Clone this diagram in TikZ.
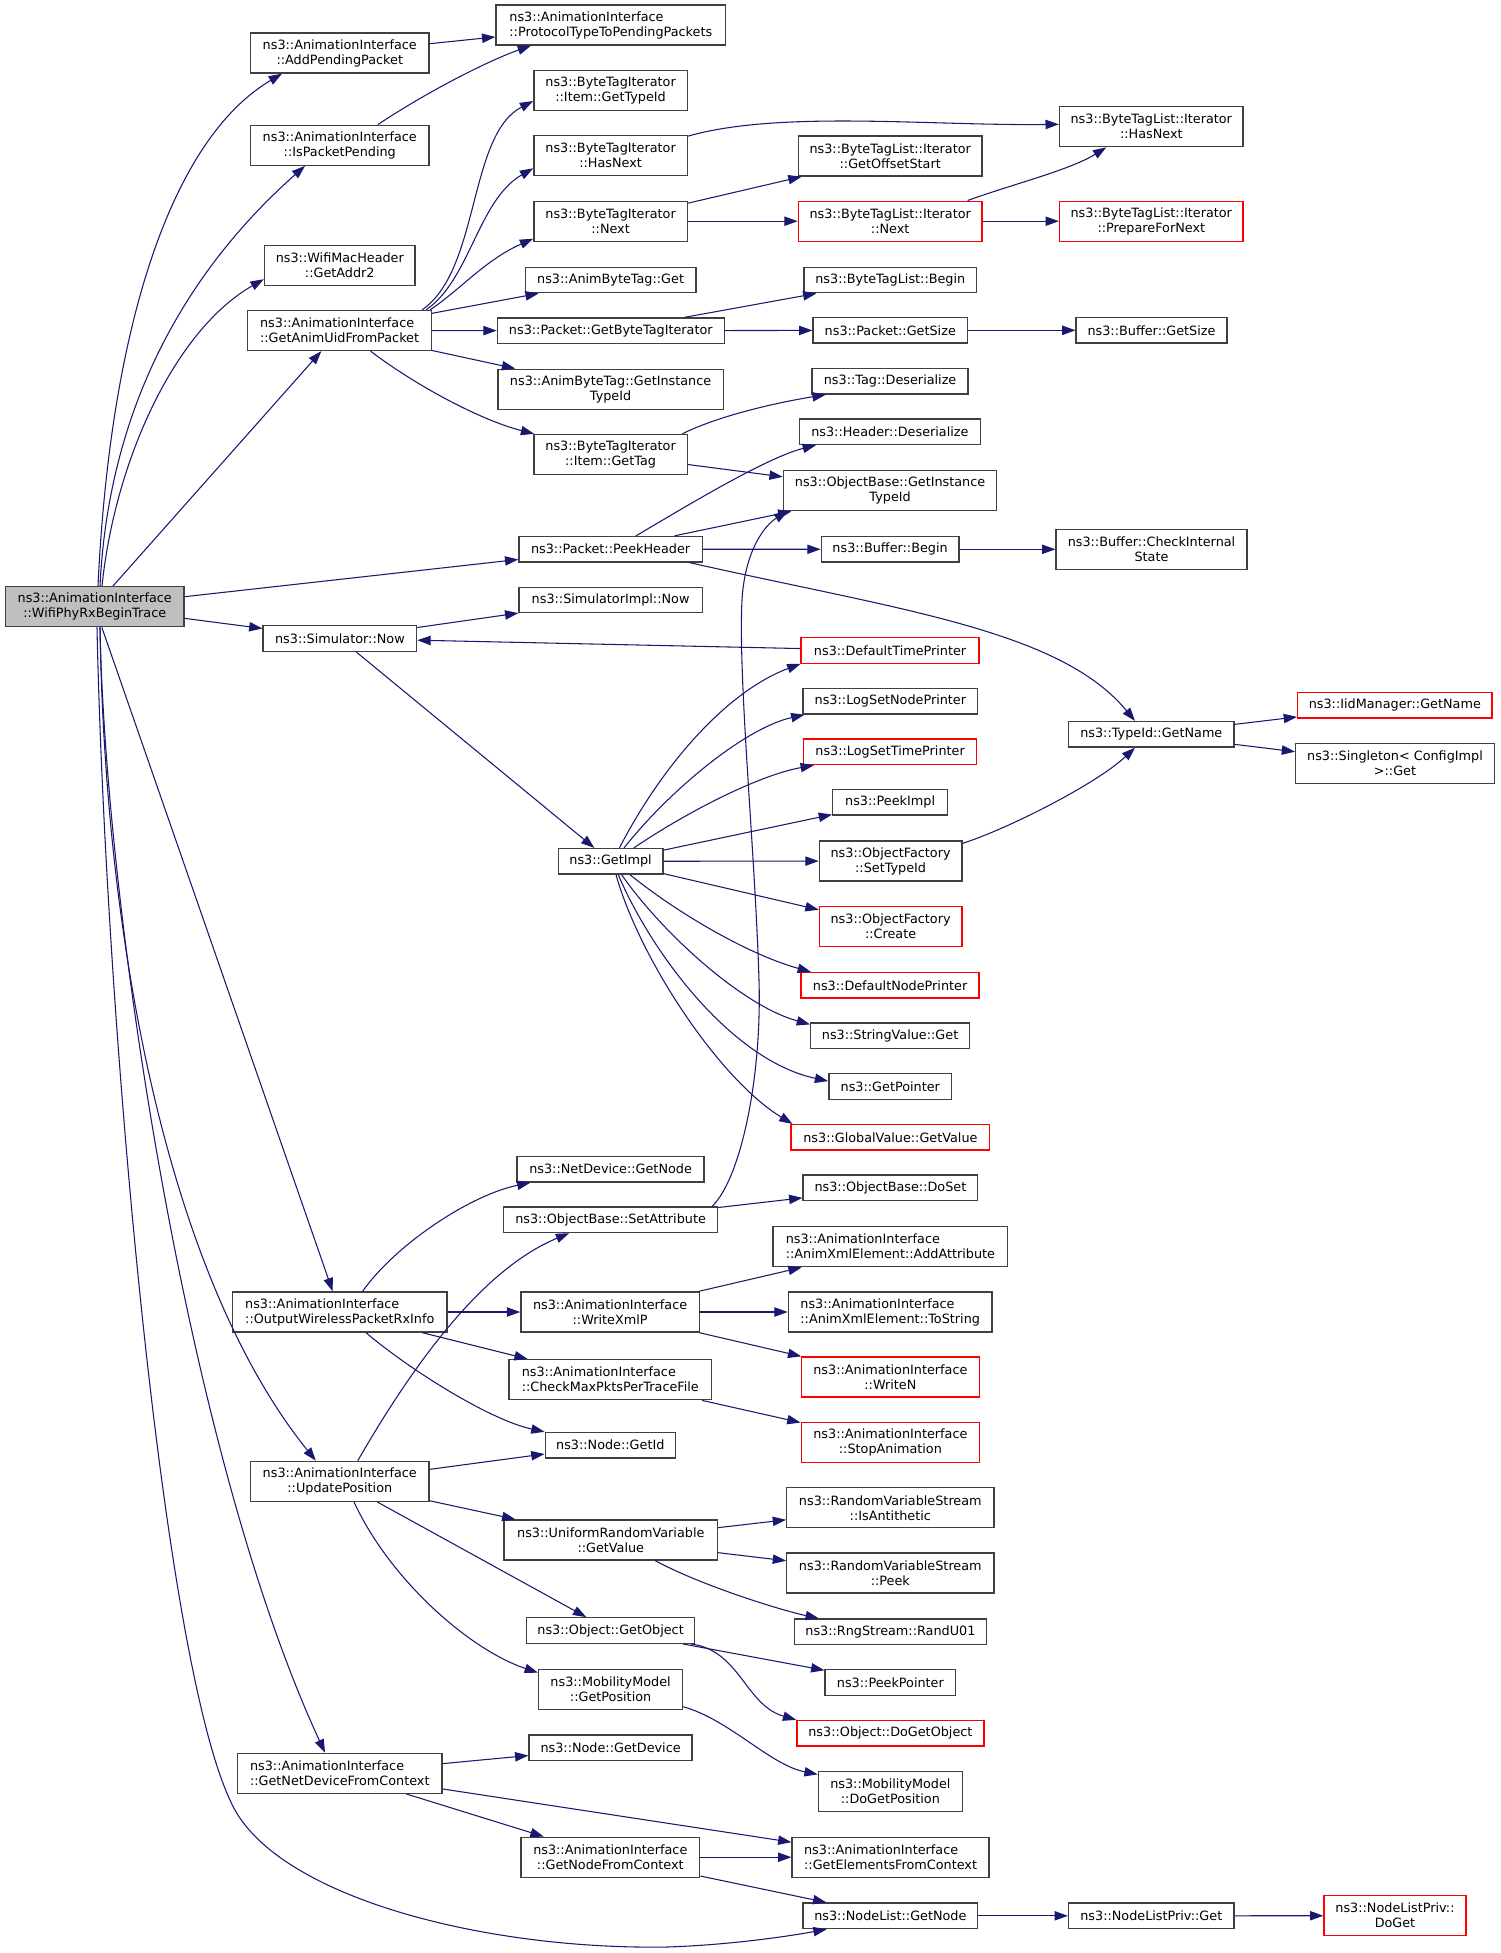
\documentclass[tikz,border=0pt]{standalone}
\usepackage{fontspec}
\setmainfont{DejaVu Sans}
\usetikzlibrary{arrows.meta,calc}
\definecolor{edgec}{HTML}{191970}
\definecolor{boxc}{HTML}{404040}
\definecolor{rootfill}{HTML}{BFBFBF}
\begin{document}
\begin{tikzpicture}[x=0.75pt,y=-0.75pt,
  nb/.style={draw=boxc, line width=1pt, fill=white, rectangle, inner xsep=2pt, inner ysep=0pt, font=\fontsize{9.6pt}{11.25pt}\selectfont},
  rb/.style={nb, draw=red},
  bw/.style={minimum width=#1*0.75pt},
  ln1/.style={minimum height=19.1pt},
  ln2c/.style={minimum height=30pt, align=center},
  ln2l/.style={minimum height=30pt, align=left},
  edg/.style={draw=edgec, line width=0.8pt, -{Triangle[length=10pt,width=7pt]}}]
\useasboundingbox[fill=white] (0,0) rectangle (1501,1953);

% root
\node[nb,fill=rootfill,bw=178.9,ln2c] (root) at (94.7,606.7) {ns3::AnimationInterface\\::WifiPhyRxBeginTrace};

% column B
\node[nb,bw=178.4,ln2c] (addpp) at (339.8,53) {ns3::AnimationInterface\\::AddPendingPacket};
\node[nb,bw=178.4,ln2c] (ispp) at (339.8,145.2) {ns3::AnimationInterface\\::IsPacketPending};
\node[nb,bw=150.7,ln2c] (addr2) at (339.8,265.2) {ns3::WifiMacHeader\\::GetAddr2};
\node[nb,bw=183.6,ln2l] (uid) at (339.6,330.5) {ns3::AnimationInterface\\::GetAnimUidFromPacket};
\node[nb,bw=153.5,ln1] (simnow) at (339.9,638.5) {ns3::Simulator::Now};
\node[nb,bw=214.7,ln2l] (outw) at (339.8,1312) {ns3::AnimationInterface\\::OutputWirelessPacketRxInfo};
\node[nb,bw=178.4,ln2c] (updpos) at (339.8,1481.3) {ns3::AnimationInterface\\::UpdatePosition};
\node[nb,bw=204.3,ln2l] (netdev) at (339.8,1773.3) {ns3::AnimationInterface\\::GetNetDeviceFromContext};

% column C
\node[nb,bw=229.6,ln2l] (ptpp) at (610.8,25) {ns3::AnimationInterface\\::ProtocolTypeToPendingPackets};
\node[nb,bw=153.5,ln2c] (itemtid) at (610.6,90.5) {ns3::ByteTagIterator\\::Item::GetTypeId};
\node[nb,bw=153.5,ln2c] (bthas) at (610.6,155.8) {ns3::ByteTagIterator\\::HasNext};
\node[nb,bw=153.5,ln2c] (btnext) at (610.6,221.2) {ns3::ByteTagIterator\\::Next};
\node[nb,bw=170.7,ln1] (abtget) at (610.6,280) {ns3::AnimByteTag::Get};
\node[nb,bw=226.8,ln1] (getbti) at (610.8,330.7) {ns3::Packet::GetByteTagIterator};
\node[nb,bw=225.3,ln2c] (abtgit) at (610.6,389.2) {ns3::AnimByteTag::GetInstance\\TypeId};
\node[nb,bw=153.5,ln2c] (itemtag) at (610.6,454.5) {ns3::ByteTagIterator\\::Item::GetTag};
\node[nb,bw=183.2,ln1] (peekh) at (610.6,549.2) {ns3::Packet::PeekHeader};
\node[nb,bw=183.2,ln1] (simimpl) at (610.6,600) {ns3::SimulatorImpl::Now};
\node[nb,bw=104.8,ln1] (getimpl) at (610.6,861.3) {ns3::GetImpl};
\node[nb,bw=187,ln1] (ndgetnode) at (610.6,1169.2) {ns3::NetDevice::GetNode};
\node[nb,bw=213.8,ln1] (setattr) at (610.6,1219.8) {ns3::ObjectBase::SetAttribute};
\node[nb,bw=178.4,ln2c] (writexml) at (610.1,1312) {ns3::AnimationInterface\\::WriteXmlP};
\node[nb,bw=202.8,ln2l] (checkmax) at (610.3,1379.7) {ns3::AnimationInterface\\::CheckMaxPktsPerTraceFile};
\node[nb,bw=130.1,ln1] (nodegetid) at (610.3,1445.2) {ns3::Node::GetId};
\node[nb,bw=213.3,ln2c] (urvget) at (610.8,1540) {ns3::UniformRandomVariable\\::GetValue};
\node[nb,bw=167.9,ln1] (objget) at (610.6,1630.5) {ns3::Object::GetObject};
\node[nb,bw=144,ln2c] (mobpos) at (610.6,1689.3) {ns3::MobilityModel\\::GetPosition};
\node[nb,bw=163.1,ln1] (nodegetdev) at (610.6,1747.8) {ns3::Node::GetDevice};
\node[nb,bw=178.9,ln2c] (nodectx) at (610.3,1857.2) {ns3::AnimationInterface\\::GetNodeFromContext};

% column D
\node[nb,bw=183.6,ln2c] (offstart) at (890.2,156) {ns3::ByteTagList::Iterator\\::GetOffsetStart};
\node[rb,bw=183.6,ln2c] (btlnext) at (890.2,221.2) {ns3::ByteTagList::Iterator\\::Next};
\node[nb,bw=172.7,ln1] (btlbegin) at (890.3,280) {ns3::ByteTagList::Begin};
\node[nb,bw=154.5,ln1] (pgetsize) at (890.3,330.3) {ns3::Packet::GetSize};
\node[nb,bw=156,ln1] (tagdes) at (890.1,381.3) {ns3::Tag::Deserialize};
\node[nb,bw=181.3,ln1] (hdrdes) at (889.9,431.7) {ns3::Header::Deserialize};
\node[nb,bw=213.3,ln2c] (obgit) at (890.1,490.7) {ns3::ObjectBase::GetInstance\\TypeId};
\node[nb,bw=137.7,ln1] (bufbegin) at (890.1,549.3) {ns3::Buffer::Begin};
\node[rb,bw=177.9,ln1] (dtp) at (890.1,650.5) {ns3::DefaultTimePrinter};
\node[nb,bw=174.6,ln1] (lsnp) at (890.4,701.3) {ns3::LogSetNodePrinter};
\node[rb,bw=173,ln1] (lstp) at (890.1,751.8) {ns3::LogSetTimePrinter};
\node[nb,bw=114.8,ln1] (peekimpl) at (890.1,802.3) {ns3::PeekImpl};
\node[nb,bw=142.5,ln2c] (ofset) at (890.6,861) {ns3::ObjectFactory\\::SetTypeId};
\node[rb,bw=142.5,ln2c] (ofcreate) at (890.6,926.5) {ns3::ObjectFactory\\::Create};
\node[rb,bw=177.9,ln1] (dnp) at (890.1,985.3) {ns3::DefaultNodePrinter};
\node[nb,bw=158.8,ln1] (strget) at (890.1,1035.8) {ns3::StringValue::Get};
\node[nb,bw=122.9,ln1] (getptr) at (890.3,1086.5) {ns3::GetPointer};
\node[rb,bw=198.5,ln1] (gvget) at (890.4,1137.3) {ns3::GlobalValue::GetValue};
\node[nb,bw=174.6,ln1] (doset) at (890.4,1187.8) {ns3::ObjectBase::DoSet};
\node[nb,bw=234.8,ln2l] (addattr) at (890.4,1246.7) {ns3::AnimationInterface\\::AnimXmlElement::AddAttribute};
\node[nb,bw=203.7,ln2l] (tostr) at (890.2,1312) {ns3::AnimationInterface\\::AnimXmlElement::ToString};
\node[rb,bw=178.4,ln2c] (writen) at (890.4,1377) {ns3::AnimationInterface\\::WriteN};
\node[rb,bw=178.4,ln2c] (stopan) at (890.4,1442.7) {ns3::AnimationInterface\\::StopAnimation};
\node[nb,bw=207.1,ln2c] (isanti) at (890.3,1507.8) {ns3::RandomVariableStream\\::IsAntithetic};
\node[nb,bw=207.1,ln2c] (rvpeek) at (890.3,1573) {ns3::RandomVariableStream\\::Peek};
\node[nb,bw=191.8,ln1] (randu01) at (890.4,1631.8) {ns3::RngStream::RandU01};
\node[nb,bw=130.6,ln1] (peekptr) at (890.4,1682.5) {ns3::PeekPointer};
\node[rb,bw=187,ln1] (dogetobj) at (890.4,1733.3) {ns3::Object::DoGetObject};
\node[nb,bw=144,ln2c] (dogetpos) at (890.4,1791.7) {ns3::MobilityModel\\::DoGetPosition};
\node[nb,bw=197,ln2l] (elemctx) at (890.6,1857.2) {ns3::AnimationInterface\\::GetElementsFromContext};
\node[nb,bw=174.6,ln1] (nlget) at (890.4,1915.8) {ns3::NodeList::GetNode};

% column E
\node[nb,bw=183.6,ln2c] (btlhas) at (1151.3,126.7) {ns3::ByteTagList::Iterator\\::HasNext};
\node[rb,bw=183.6,ln2c] (btlprep) at (1151.3,221.2) {ns3::ByteTagList::Iterator\\::PrepareForNext};
\node[nb,bw=150.7,ln1] (bufsize) at (1151.5,330.3) {ns3::Buffer::GetSize};
\node[nb,bw=190.9,ln2c] (bufcheck) at (1151.5,549.3) {ns3::Buffer::CheckInternal\\State};
\node[nb,bw=165.5,ln1] (tidname) at (1151.3,734.3) {ns3::TypeId::GetName};
\node[nb,bw=165.5,ln1] (nlpget) at (1151.3,1915.8) {ns3::NodeListPriv::Get};

% column F
\node[rb,bw=194.2,ln1] (iidname) at (1394.8,705.3) {ns3::IidManager::GetName};
\node[nb,bw=198.5,ln2c] (singleton) at (1395,763.7) {ns3::Singleton< ConfigImpl\\>::Get};
\node[rb,bw=142,ln2c] (nlpdoget) at (1395,1915.7) {ns3::NodeListPriv::\\DoGet};

% straight connectors
\draw[edg] (addpp) -- (ptpp);
\draw[edg] (root) -- (uid);
\draw[edg] (root) -- (peekh);
\draw[edg] (root) -- (simnow);
\draw[edg] (root) -- (outw);
\draw[edg] (uid) -- (abtget);
\draw[edg] (uid) -- (getbti);
\draw[edg] (uid) -- (abtgit);
\draw[edg] (btnext) -- (offstart);
\draw[edg] (btnext) -- (btlnext);
\draw[edg] (btlnext) -- (btlprep);
\draw[edg] (getbti) -- (btlbegin);
\draw[edg] (getbti) -- (pgetsize);
\draw[edg] (pgetsize) -- (bufsize);
\draw[edg] (itemtag) -- (obgit);
\draw[edg] (peekh) -- (obgit);
\draw[edg] (peekh) -- (bufbegin);
\draw[edg] (bufbegin) -- (bufcheck);
\draw[edg] (simnow) -- (simimpl);
\draw[edg] (simnow) -- (getimpl);
\draw[edg] (dtp) -- (simnow);
\draw[edg] (getimpl) -- (peekimpl);
\draw[edg] (getimpl) -- (ofset);
\draw[edg] (getimpl) -- (ofcreate);
\draw[edg] (tidname) -- (iidname);
\draw[edg] (tidname) -- (singleton);
\draw[edg] (outw) -- (writexml);
\draw[edg] (outw) -- (checkmax);
\draw[edg] (setattr) -- (doset);
\draw[edg] (writexml) -- (addattr);
\draw[edg] (writexml) -- (tostr);
\draw[edg] (writexml) -- (writen);
\draw[edg] (checkmax) -- (stopan);
\draw[edg] (updpos) -- (nodegetid);
\draw[edg] (updpos) -- (urvget);
\draw[edg] (updpos) -- (objget);
\draw[edg] (urvget) -- (isanti);
\draw[edg] (urvget) -- (rvpeek);
\draw[edg] (objget) -- (peekptr);
\draw[edg] (netdev) -- (nodegetdev);
\draw[edg] (netdev) -- (elemctx);
\draw[edg] (netdev) -- (nodectx);
\draw[edg] (nodectx) -- (elemctx);
\draw[edg] (nodectx) -- (nlget);
\draw[edg] (nlget) -- (nlpget);
\draw[edg] (nlpget) -- (nlpdoget);

% curved connectors
\draw[edg] ($(root.north)+(3.3,0)$) .. controls (110,330) and (170,140) .. ($(addpp.south)+(-57.8,0)$);
\draw[edg] ($(root.north)+(5.3,0)$) .. controls (110,380) and (210,250) .. ($(ispp.south)+(-34.8,0)$);
\draw[edg] ($(root.north)+(7.3,0)$) .. controls (115,460) and (175,330) .. ($(addr2.west)+(0,14)$);
\draw[edg] ($(root.south)+(5.3,0)$) .. controls (105,950) and (170,1280) .. ($(updpos.north)+(-24,0)$);
\draw[edg] ($(root.south)+(5.3,0)$) .. controls (105,900) and (185,1450) .. ($(netdev.north)+(-14.8,0)$);
\draw[edg] ($(root.south)+(2.3,0)$) .. controls (105,1000) and (160,1650) .. (230,1800) .. controls (270,1895) and (480,1950) .. (667,1947) .. controls (730,1945) and (790,1936) .. ($(nlget.south)+(-63.7,0)$);
\draw[edg] ($(ispp.north)+(38.1,0)$) .. controls (430,90) and (490,60) .. ($(ptpp.south)+(-79.8,0)$);
\draw[edg] ($(uid.north east)+(-10,0)$) .. controls (480,270) and (468,135) .. ($(itemtid.west)+(0,10.5)$);
\draw[edg] ($(uid.north east)+(-6,0)$) .. controls (470,280) and (478,200) .. ($(bthas.west)+(0,12.5)$);
\draw[edg] ($(uid.north east)+(-2,0)$) .. controls (460,290) and (485,260) .. ($(btnext.west)+(0,17.5)$);
\draw[edg] ($(uid.south)+(31,0)$) .. controls (415,385) and (480,420) .. ($(itemtag.north west)+(1,0)$);
\draw[edg] ($(bthas.north east)+(0,1)$) .. controls (780,110) and (930,126) .. ($(btlhas.west)+(0,-2.4)$);
\draw[edg] ($(btlnext.north)+(77.4,0)$) .. controls (1010,185) and (1070,170) .. ($(btlhas.south)+(-45,0)$);
\draw[edg] ($(itemtag.north east)+(-5.7,0)$) .. controls (720,415) and (780,402) .. ($(tagdes.south west)+(14.3,0)$);
\draw[edg] ($(peekh.north)+(25.4,0)$) .. controls (680,510) and (765,458) .. ($(hdrdes.south west)+(17.4,0)$);
\draw[edg] ($(peekh.south east)+(-13.4,0)$) .. controls (900,610) and (1060,630) .. ($(tidname.north)+(-16.3,0)$);
\draw[edg] ($(getimpl.north)+(8.8,0)$) .. controls (665,760) and (730,690) .. (dtp.south west);
\draw[edg] ($(getimpl.north)+(13.4,0)$) .. controls (670,790) and (745,728) .. ($(lsnp.south west)+(2,0)$);
\draw[edg] ($(getimpl.north)+(23.2,0)$) .. controls (690,810) and (760,775) .. ($(lstp.south west)+(11,0)$);
\draw[edg] ($(getimpl.south)+(19.4,0)$) .. controls (680,915) and (750,955) .. ($(dnp.north west)+(10.5,0)$);
\draw[edg] ($(getimpl.south)+(11,0)$) .. controls (660,930) and (740,1005) .. ($(strget.north west)+(0,2)$);
\draw[edg] ($(getimpl.south)+(7.7,0)$) .. controls (650,950) and (730,1060) .. ($(getptr.north west)+(0,8)$);
\draw[edg] ($(getimpl.south)+(5.4,0)$) .. controls (640,960) and (720,1080) .. ($(gvget.north west)+(2,0)$);
\draw[edg] ($(ofset.north east)+(0,3)$) .. controls (1005,830) and (1095,785) .. ($(tidname.south)+(-16.3,0)$);
\draw[edg] ($(outw.north)+(22.8,0)$) .. controls (395,1245) and (470,1195) .. ($(ndgetnode.south west)+(14,0)$);
\draw[edg] ($(outw.south)+(26.2,0)$) .. controls (410,1370) and (490,1420) .. (nodegetid.north west);
\draw[edg] ($(updpos.north)+(18,0)$) .. controls (410,1370) and (480,1270) .. ($(setattr.south)+(-41.4,0)$);
\draw[edg] ($(updpos.south)+(14.2,0)$) .. controls (390,1580) and (470,1650) .. ($(mobpos.north west)+(0,4)$);
\draw[edg] ($(setattr.north east)+(-6.2,0)$) .. controls (740,1180) and (762,1080) .. (759,980) .. controls (755,850) and (738,680) .. (742,600) .. controls (745,550) and (765,525) .. ($(obgit.south west)+(4.8,0)$);
\draw[edg] ($(urvget.south)+(44.5,0)$) .. controls (700,1585) and (780,1610) .. ($(randu01.north west)+(25,0)$);
\draw[edg] ($(objget.south east)+(-4.5,0)$) .. controls (740,1650) and (745,1705) .. (dogetobj.north west);
\draw[edg] ($(mobpos.east)+(0,17.4)$) .. controls (730,1720) and (770,1765) .. ($(dogetpos.north west)+(0,3.3)$);
\end{tikzpicture}
\end{document}
